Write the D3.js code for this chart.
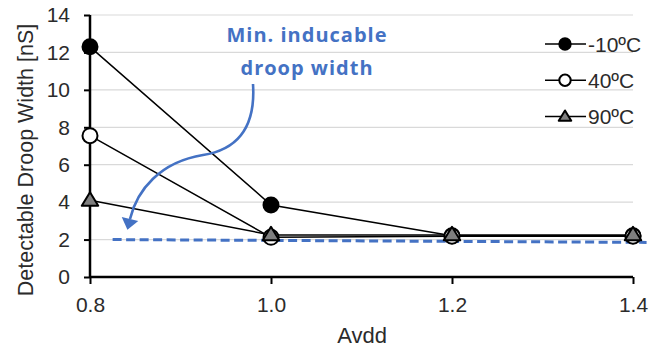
<!DOCTYPE html>
<html>
<head>
<meta charset="utf-8">
<script src="https://cdn.jsdelivr.net/npm/d3@7"></script>
<style>
  html, body { margin: 0; padding: 0; background: #fff; }
  svg { display: block; font-family: "Liberation Sans", Arial, sans-serif; }
</style>
</head>
<body>
<svg id="chart" width="660" height="348"></svg>
<script>
// Supply voltage (Avdd) sweep points
const avdd = [0.8, 1.0, 1.2, 1.4];
// Detectable droop width [nS] per temperature
const tempLabels = ["-10ºC", "40ºC", "90ºC"];
const widthM10 = [12.3, 3.85, 2.2, 2.2];
const width40 = [7.55, 2.12, 2.18, 2.18];
const width90 = [4.1, 2.25, 2.25, 2.25];
// Minimum inducable droop width reference (dashed)
const minX = [0.825, 1.415];
const minY = [2.0, 1.85];
const yTicks = [0, 2, 4, 6, 8, 10, 12, 14];
const xTicks = [0.8, 1.0, 1.2, 1.4];

const svg = d3.select("#chart");
const plotL = 90, plotR = 633, plotT = 15, plotB = 277;
const x = d3.scaleLinear().domain([0.8, 1.4]).range([plotL, plotR]);
const y = d3.scaleLinear().domain([0, 14]).range([plotB, plotT]);
const blue = "#4472C4";
const ink = "#2b2b2b";

// horizontal gridlines
svg.append("g").selectAll("line").data(yTicks.filter(d => d > 0)).join("line")
  .attr("x1", plotL).attr("x2", plotR)
  .attr("y1", d => y(d)).attr("y2", d => y(d))
  .attr("stroke", "#d9d9d9").attr("stroke-width", 1.2);

// axes
const yAxis = svg.append("g").attr("transform", `translate(${plotL},0)`)
  .call(d3.axisLeft(y).tickValues(yTicks).tickSize(6).tickPadding(14).tickFormat(d3.format("d")));
const xAxis = svg.append("g").attr("transform", `translate(0,${plotB})`)
  .call(d3.axisBottom(x).tickValues(xTicks).tickSize(7).tickPadding(13).tickFormat(d3.format(".1f")));
[yAxis, xAxis].forEach(a => {
  a.select(".domain").attr("stroke", "#000").attr("stroke-width", 2.5);
  a.selectAll(".tick line").attr("stroke", "#000").attr("stroke-width", 2);
  a.selectAll(".tick text").attr("fill", ink).attr("font-size", 21)
    .attr("font-family", "Liberation Sans, Arial, sans-serif");
});
xAxis.select(".domain").attr("d", `M${plotL},0H${plotR}`);
yAxis.select(".domain").attr("d", `M0,${plotT}V${plotB}`);

// axis titles
svg.append("text").attr("x", 362).attr("y", 343).attr("text-anchor", "middle")
  .attr("font-size", 22).attr("fill", ink).text("Avdd");
svg.append("text").attr("transform", `translate(33,160) rotate(-90)`)
  .attr("text-anchor", "middle").attr("font-size", 21.5).attr("fill", ink)
  .text("Detectable Droop Width [nS]");

// dashed minimum line
svg.append("line")
  .attr("x1", x(minX[0])).attr("y1", y(minY[0]))
  .attr("x2", x(minX[1])).attr("y2", y(minY[1]))
  .attr("stroke", blue).attr("stroke-width", 3).attr("stroke-dasharray", "9,4.5");

const series = [
  { name: tempLabels[0], values: widthM10, shape: "circle", fill: "#000" },
  { name: tempLabels[1], values: width40, shape: "circle", fill: "#fff" },
  { name: tempLabels[2], values: width90, shape: "triangle", fill: "#7f7f7f" }
];
const line = d3.line().x((d, i) => x(avdd[i])).y(d => y(d));

series.forEach(s => {
  svg.append("path").attr("d", line(s.values))
    .attr("fill", "none").attr("stroke", "#000").attr("stroke-width", 1.5);
});

function drawMarker(g, s, cx, cy, size) {
  if (s.shape === "circle") {
    g.append("circle").attr("cx", cx).attr("cy", cy).attr("r", size)
      .attr("fill", s.fill).attr("stroke", "#000").attr("stroke-width", 2);
  } else {
    const h = size * 1.8, w = size * 2.2;
    g.append("path")
      .attr("d", `M${cx},${cy - h * 0.6}L${cx + w / 2},${cy + h * 0.4}L${cx - w / 2},${cy + h * 0.4}Z`)
      .attr("fill", s.fill).attr("stroke", "#000").attr("stroke-width", 2).attr("stroke-linejoin", "round");
  }
}

const markers = svg.append("g");
series.forEach(s => {
  s.values.forEach((v, i) => drawMarker(markers, s, x(avdd[i]), y(v), 7.5));
});

// legend
const legend = svg.append("g");
series.forEach((s, i) => {
  const ly = 44 + i * 36.3;
  legend.append("line").attr("x1", 545).attr("x2", 586).attr("y1", ly).attr("y2", ly)
    .attr("stroke", "#000").attr("stroke-width", 1.5);
  drawMarker(legend, s, 565, ly, 5.7);
  legend.append("text").attr("x", 588).attr("y", ly).attr("dy", "0.36em")
    .attr("font-size", 21).attr("fill", ink).text(s.name);
});

// annotation
const note = svg.append("text").attr("text-anchor", "middle").attr("fill", blue)
  .attr("font-family", "Open Sans, sans-serif").attr("font-weight", "bold")
  .attr("font-size", 20).attr("letter-spacing", 1);
note.append("tspan").attr("x", 307).attr("y", 42).text("Min. inducable");
note.append("tspan").attr("x", 307).attr("y", 75).text("droop width");

// curved pointer from the note down to the dashed line
const c1 = [256, 130], c2 = [235, 150], mid = [203, 155];
const c3 = [160, 162], c4 = [137, 190], end = [130, 219];
svg.append("path")
  .attr("d", `M253,84 C${c1} ${c2} ${mid} C${c3} ${c4} ${end}`)
  .attr("fill", "none").attr("stroke", blue).attr("stroke-width", 2.6);
const dx = end[0] - c4[0], dy = end[1] - c4[1], len = Math.hypot(dx, dy);
const ux = dx / len, uy = dy / len, headLen = 11, headHalf = 8.5;
const tip = [end[0] + ux * headLen, end[1] + uy * headLen];
const b1 = [end[0] - uy * headHalf, end[1] + ux * headHalf];
const b2 = [end[0] + uy * headHalf, end[1] - ux * headHalf];
svg.append("path").attr("d", `M${tip}L${b1}L${b2}Z`).attr("fill", blue);
</script>
</body>
</html>
